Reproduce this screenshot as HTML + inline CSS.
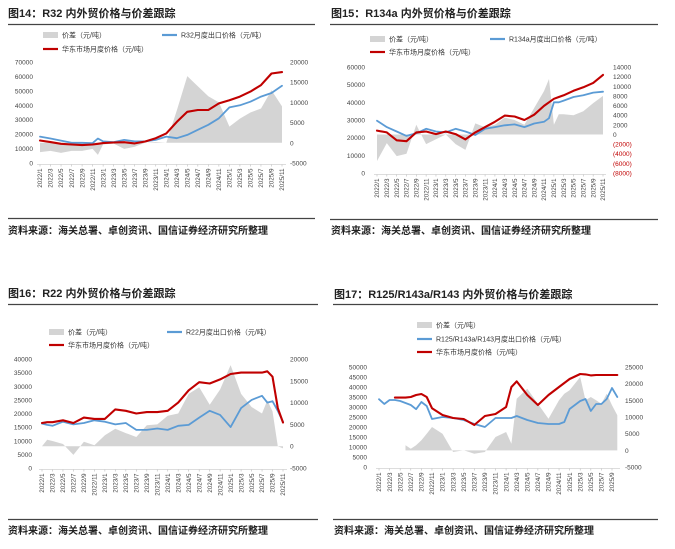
<!DOCTYPE html>
<html><head><meta charset="utf-8"><style>
body{margin:0;background:#fff;}
svg{display:block;font-family:"Liberation Sans","Noto Sans CJK SC",sans-serif;}
</style></head><body>
<svg id="root" width="675" height="549" viewBox="0 0 675 549" xmlns="http://www.w3.org/2000/svg">
<rect width="675" height="549" fill="#fff"/>
<g>
<text x="8" y="17" font-size="11" font-weight="bold" fill="#222">图14：R32 内外贸价格与价差跟踪</text>
<line x1="8" y1="24.5" x2="315" y2="24.5" stroke="#444" stroke-width="1.3"/>
<line x1="8" y1="218.5" x2="315" y2="218.5" stroke="#444" stroke-width="1.3"/>
<text x="8" y="234" font-size="10" font-weight="bold" fill="#222">资料来源：海关总署、卓创资讯、国信证券经济研究所整理</text>
</g>
<g>
<text x="331" y="17" font-size="11" font-weight="bold" fill="#222">图15：R134a 内外贸价格与价差跟踪</text>
<line x1="330" y1="24.5" x2="658" y2="24.5" stroke="#444" stroke-width="1.3"/>
<line x1="330" y1="219.5" x2="658" y2="219.5" stroke="#444" stroke-width="1.3"/>
<text x="331" y="234" font-size="10" font-weight="bold" fill="#222">资料来源：海关总署、卓创资讯、国信证券经济研究所整理</text>
</g>
<g>
<text x="8" y="297" font-size="11" font-weight="bold" fill="#222">图16：R22 内外贸价格与价差跟踪</text>
<line x1="8" y1="304.5" x2="318" y2="304.5" stroke="#444" stroke-width="1.3"/>
<line x1="8" y1="519.5" x2="318" y2="519.5" stroke="#444" stroke-width="1.3"/>
<text x="8" y="534" font-size="10" font-weight="bold" fill="#222">资料来源：海关总署、卓创资讯、国信证券经济研究所整理</text>
</g>
<g>
<text x="334" y="298" font-size="11" font-weight="bold" fill="#222">图17：R125/R143a/R143 内外贸价格与价差跟踪</text>
<line x1="333" y1="304.5" x2="658" y2="304.5" stroke="#444" stroke-width="1.3"/>
<line x1="333" y1="519.5" x2="658" y2="519.5" stroke="#444" stroke-width="1.3"/>
<text x="334" y="534" font-size="10" font-weight="bold" fill="#222">资料来源：海关总署、卓创资讯、国信证券经济研究所整理</text>
</g>
</svg>
<script>
// ===== Chart 14 data (R32) =====
const c14Months   = ["2022/1","2022/3","2022/5","2022/7","2022/9","2022/11","2022/12","2023/1","2023/3","2023/5","2023/7","2023/9","2023/11","2024/1","2024/3","2024/5","2024/7","2024/9","2024/11","2025/1","2025/3","2025/5","2025/7","2025/9","2025/11"];
const c14Diff     = [-2300,-2000,-2500,-2000,-2000,-1500,-3000,-400,-200,-1500,-1000,0,200,0,8000,16500,14000,11500,10000,4000,6000,7500,8500,13000,9000];
const c14Export   = [18300,17000,15500,14000,14000,13800,17000,15000,14500,16000,15000,15000,16000,18300,17200,19500,23000,26500,31000,38500,40000,42500,46000,48500,53500];
const c14Domestic = [15600,14500,13300,12800,12400,12800,13300,13800,14200,14400,13600,14900,17200,20500,28500,35500,36700,36700,41300,43500,46000,49500,54000,62000,63000];
const c14LeftTicks  = [0,10000,20000,30000,40000,50000,60000,70000];
const c14RightTicks = [-5000,0,5000,10000,15000,20000];
// ===== Chart 15 data (R134a) =====
const c15Months   = ["2022/1","2022/3","2022/5","2022/7","2022/9","2022/11","2023/1","2023/3","2023/5","2023/7","2023/9","2023/11","2024/1","2024/3","2024/5","2024/7","2024/9","2024/11","2024/12","2025/1","2025/2","2025/3","2025/5","2025/7","2025/9","2025/11"];
const c15Diff     = [-5500,-1800,-4500,-4000,2000,-2000,-1000,0,-2000,-3200,2300,1500,2000,3500,3000,2000,5500,9000,11500,2000,4200,4200,4000,4800,6500,8000];
const c15Export   = [29600,26000,23500,21000,22500,25000,23500,23000,25000,23500,21500,25000,26000,27000,27500,26000,28000,29000,31000,40000,40000,41000,43000,44000,45500,46000];
const c15Domestic = [24000,23000,18500,18000,23000,23500,22000,23500,22000,19000,23000,26000,29000,32500,32000,30000,33000,38000,40000,42000,43000,44000,46500,48500,51000,55500];
const c15LeftTicks  = [0,10000,20000,30000,40000,50000,60000];
const c15RightTicks = [-8000,-6000,-4000,-2000,0,2000,4000,6000,8000,10000,12000,14000];
// ===== Chart 16 data (R22) =====
const c16Months   = ["2022/1","2022/2","2022/3","2022/5","2022/7","2022/9","2022/11","2023/1","2023/3","2023/5","2023/7","2023/9","2023/11","2024/1","2024/3","2024/5","2024/7","2024/9","2024/11","2025/1","2025/3","2025/5","2025/7","2025/8","2025/9","2025/10","2025/11"];
const c16Diff     = [0,1500,1200,500,-2000,1000,200,2500,4000,3000,2100,4800,5000,7000,7500,12000,13500,9500,13000,18600,12000,9000,7500,10500,8000,0,-500];
const c16Export   = [16300,15800,15500,17000,16000,16500,17500,17000,16000,16500,14000,14000,14500,14000,15500,15800,18500,21000,19500,15000,22000,25000,26500,24000,24500,21000,17000];
const c16Domestic = [16500,16800,16800,17500,16500,18500,18000,18000,21500,21000,20000,20500,20500,21000,24000,28500,31500,31000,32500,34500,35000,35000,35000,35500,33500,22000,16700];
const c16LeftTicks  = [0,5000,10000,15000,20000,25000,30000,35000,40000];
const c16RightTicks = [-5000,0,5000,10000,15000,20000];
// ===== Chart 17 data (R125/R143a/R143) =====
const c17Months   = ["2022/1","2022/2","2022/3","2022/4","2022/5","2022/6","2022/7","2022/8","2022/9","2022/10","2022/11","2023/1","2023/3","2023/5","2023/7","2023/9","2023/11","2024/1","2024/2","2024/3","2024/5","2024/7","2024/9","2024/11","2024/12","2025/1","2025/3","2025/4","2025/5","2025/6","2025/7","2025/8","2025/9","2025/10"];
const c17Diff     = [null,null,null,null,null,1500,500,1500,3000,5000,7000,5000,-500,0,-1000,-500,4000,5500,2000,15500,18500,14000,9500,15000,17000,18000,22000,15000,16000,15000,14000,17000,13500,10500];
const c17Export   = [33900,31500,33500,33500,33000,32000,31000,28900,32500,30500,24000,25000,24500,23500,21500,20000,24500,24500,24500,25500,23500,22000,21500,21500,22500,29000,33000,34000,28000,31500,31500,34000,39500,35000];
const c17Domestic = [null,null,null,34700,34700,34700,35000,36000,36500,35000,29400,26000,24500,24000,21000,25500,26500,30000,40000,42800,36000,31000,36000,40000,42000,44000,46500,46300,45800,46000,46000,46000,46000,46000];
const c17LeftTicks  = [0,5000,10000,15000,20000,25000,30000,35000,40000,45000,50000];
const c17RightTicks = [-5000,0,5000,10000,15000,20000,25000];

const xLabels14 = ["2022/1","2022/3","2022/5","2022/7","2022/9","2022/11","2023/1","2023/3","2023/5","2023/7","2023/9","2023/11","2024/1","2024/3","2024/5","2024/7","2024/9","2024/11","2025/1","2025/3","2025/5","2025/7","2025/9","2025/11"];
const xLabels17 = xLabels14.slice(0,23);

const NS = "http://www.w3.org/2000/svg";
const root = document.getElementById('root');
function mk(tag, attrs, parent){ const e=document.createElementNS(NS,tag); for(const k in attrs) e.setAttribute(k,attrs[k]); (parent||root).appendChild(e); return e; }
function mIdx(s){ const p=s.split('/'); return (+p[0]-2022)*12 + (+p[1]-1); }

function drawChart(id, g, months, diff, exp, dom, lt, rt, xl, legend, negParen){
  const grp = mk('g',{});
  
  
  const xs = m => g.x0 + (mIdx(m)) * g.step;
  const yl = v => g.lb + (v - g.lmin) / (g.lmax - g.lmin) * (g.lt - g.lb);
  const yr = v => g.lb + (v - g.rmin) / (g.rmax - g.rmin) * (g.lt - g.lb);
  // left ticks
  lt.forEach(v=>{ const t=mk('text',{x:g.lx,y:yl(v)+2.5,'font-size':6.5,fill:'#444','text-anchor':'end'},grp); t.textContent=v;
      });
  rt.forEach(v=>{ let s=String(v); let col='#444'; if(negParen && v<0){ s='('+(-v)+')'; col='#c00000'; }
    const t=mk('text',{x:g.rx,y:yr(v)+2.5,'font-size':6.5,fill:col},grp); t.textContent=s;
      });
  // gray area
  let segs=[], cur=[];
  months.forEach((m,i)=>{ if(diff[i]==null){ if(cur.length){segs.push(cur);cur=[];} } else cur.push([xs(m),yr(diff[i])]); });
  if(cur.length) segs.push(cur);
  const y0=yr(0);
  segs.forEach(sg=>{ let d='M'+sg[0][0]+','+y0; sg.forEach(p=>d+=' L'+p[0].toFixed(1)+','+p[1].toFixed(1)); d+=' L'+sg[sg.length-1][0]+','+y0+'Z';
    const a=mk('path',{d:d,fill:'#d4d4d4'},grp);   });
  // x axis line + ticks
  const axY = g.lb+1.5;
  const ax=mk('line',{x1:g.x0-3,y1:axY,x2:g.xEnd,y2:axY,stroke:'#bbb','stroke-width':0.6},grp);
   
  xl.forEach(m=>{ const x=xs(m);
    mk('line',{x1:x,y1:axY,x2:x,y2:axY+2,stroke:'#bbb','stroke-width':0.6},grp);
    const t=mk('text',{x:0,y:0,'font-size':6.3,fill:'#444','text-anchor':'end',transform:'translate('+(x+2.2)+','+(axY+4)+') rotate(-90)'},grp);
    t.textContent=m;   });
  function line(vals,col,w,name){ let d=''; let pen=false;
    months.forEach((m,i)=>{ const v=vals[i]; if(v==null){pen=false;return;} d+=(pen?' L':' M')+xs(m).toFixed(1)+','+yl(v).toFixed(1); pen=true; });
    const p=mk('path',{d:d,fill:'none',stroke:col,'stroke-width':w,'stroke-linejoin':'round','stroke-linecap':'round'},grp);
      }
  line(exp,'#5b9bd5',1.8,'export-price-line');
  line(dom,'#c00000',2.1,'domestic-price-line');
  // legend
  legend.forEach(L=>{ const lg=mk('g',{},grp);  
    if(L.type==='area') mk('rect',{x:L.x,y:L.y-3,width:15,height:6,fill:'#d4d4d4'},lg);
    else mk('line',{x1:L.x,y1:L.y,x2:L.x+15,y2:L.y,stroke:L.col,'stroke-width':2.2},lg);
    const t=mk('text',{x:L.x+19,y:L.y+2.5,'font-size':7,fill:'#333'},lg); t.textContent=L.text; });
}

drawChart('chart-14-r32',{x0:40,step:(282-40)/46,xEnd:286,lt:62,lb:163,lmin:0,lmax:70000,rmin:-5000,rmax:20000,lx:33,rx:290},
  c14Months,c14Diff,c14Export,c14Domestic,c14LeftTicks,c14RightTicks,xLabels14,
  [{name:'legend-price-diff',type:'area',x:43,y:35,text:'价差（元/吨）'},
   {name:'legend-export-price',type:'line',col:'#5b9bd5',x:162,y:35,text:'R32月度出口价格（元/吨）'},
   {name:'legend-domestic-price',type:'line',col:'#c00000',x:43,y:49,text:'华东市场月度价格（元/吨）'}],false);
drawChart('chart-15-r134a',{x0:377,step:(603-377)/46,xEnd:606,lt:67,lb:173,lmin:0,lmax:60000,rmin:-8000,rmax:14000,lx:365,rx:613},
  c15Months,c15Diff,c15Export,c15Domestic,c15LeftTicks,c15RightTicks,xLabels14,
  [{name:'legend-price-diff',type:'area',x:370,y:39,text:'价差（元/吨）'},
   {name:'legend-export-price',type:'line',col:'#5b9bd5',x:490,y:39,text:'R134a月度出口价格（元/吨）'},
   {name:'legend-domestic-price',type:'line',col:'#c00000',x:370,y:52,text:'华东市场月度价格（元/吨）'}],true);
drawChart('chart-16-r22',{x0:42,step:(283-42)/46,xEnd:287,lt:359,lb:468,lmin:0,lmax:40000,rmin:-5000,rmax:20000,lx:32,rx:290},
  c16Months,c16Diff,c16Export,c16Domestic,c16LeftTicks,c16RightTicks,xLabels14,
  [{name:'legend-price-diff',type:'area',x:49,y:332,text:'价差（元/吨）'},
   {name:'legend-export-price',type:'line',col:'#5b9bd5',x:167,y:332,text:'R22月度出口价格（元/吨）'},
   {name:'legend-domestic-price',type:'line',col:'#c00000',x:49,y:345,text:'华东市场月度价格（元/吨）'}],false);
drawChart('chart-17-r125',{x0:379,step:(612-379)/44,xEnd:620,lt:367,lb:467,lmin:0,lmax:50000,rmin:-5000,rmax:25000,lx:367,rx:625},
  c17Months,c17Diff,c17Export,c17Domestic,c17LeftTicks,c17RightTicks,xLabels17,
  [{name:'legend-price-diff',type:'area',x:417,y:325,text:'价差（元/吨）'},
   {name:'legend-export-price',type:'line',col:'#5b9bd5',x:417,y:339,text:'R125/R143a/R143月度出口价格（元/吨）'},
   {name:'legend-domestic-price',type:'line',col:'#c00000',x:417,y:352,text:'华东市场月度价格（元/吨）'}],false);
</script>
</body></html>
